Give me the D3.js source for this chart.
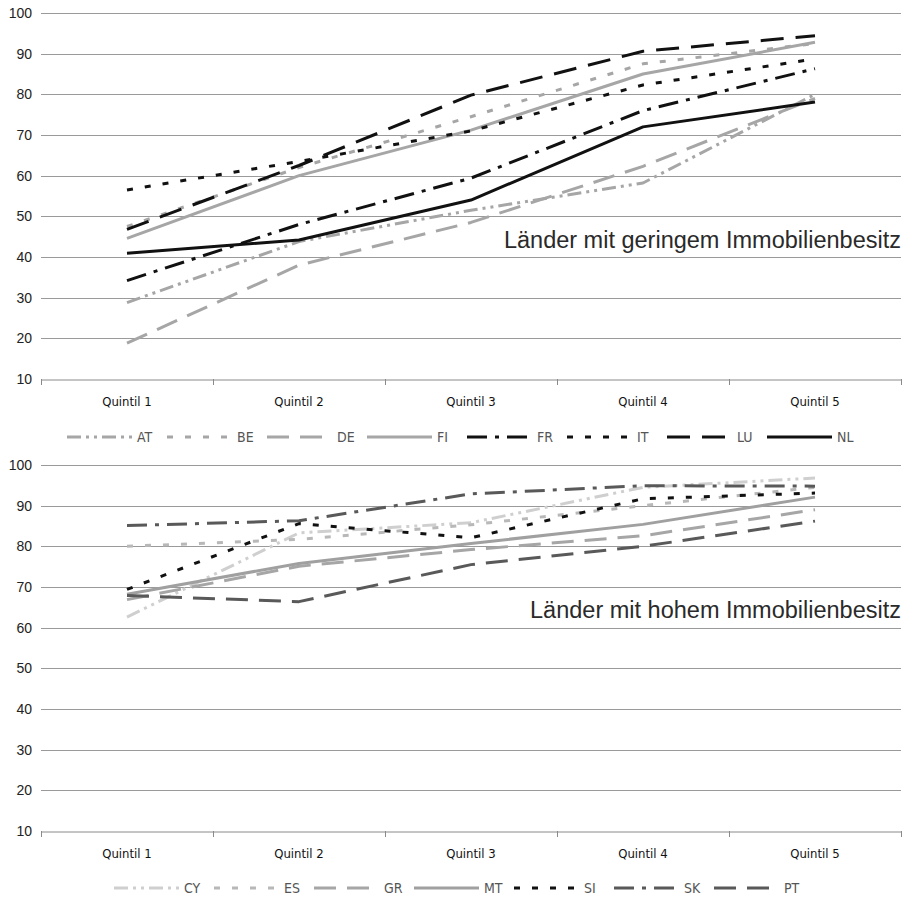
<!DOCTYPE html>
<html>
<head>
<meta charset="utf-8">
<script src="https://cdn.jsdelivr.net/npm/d3@7"></script>
<style>
  body { margin: 0; background: #fff; }
  svg { display: block; }
  .tick-y { font-family: "Liberation Sans", Arial, sans-serif; font-size: 14px; fill: #222; }
  .tick-x { font-family: "Liberation Sans Narrow", "DejaVu Sans Condensed", sans-serif; font-size: 13px; fill: #111; }
  .legend-text { font-family: "Liberation Sans Narrow", "DejaVu Sans Condensed", sans-serif; font-size: 14px; fill: #555; }
  .note { font-family: "Liberation Sans", Arial, sans-serif; font-size: 23.5px; fill: #2a2a2a; }
</style>
</head>
<body>
<svg id="chart" width="914" height="906"></svg>
<script>
// categories and ticks
var quintiles = ["Quintil 1", "Quintil 2", "Quintil 3", "Quintil 4", "Quintil 5"];
var yTicks = [10, 20, 30, 40, 50, 60, 70, 80, 90, 100];

// countries with low home ownership
var lowCountries = ["AT", "BE", "DE", "FI", "FR", "IT", "LU", "NL"];
var AT = [28.8, 43.8, 51.5, 58.2, 80];
var BE = [47.5, 62, 74.5, 87.5, 92.5];
var DE = [18.8, 38, 48.5, 62.3, 79];
var FI = [44.6, 60, 71.2, 85, 92.8];
var FR = [34.2, 48, 59.4, 76, 86.3];
var IT = [56.5, 63.5, 71, 82.3, 88.7];
var LU = [46.8, 62.5, 79.8, 90.6, 94.4];
var NL = [40.9, 44.2, 54, 72, 78.1];

// countries with high home ownership
var highCountries = ["CY", "ES", "GR", "MT", "SI", "SK", "PT"];
var CY = [62.6, 83.3, 85.8, 94.5, 96.8];
var ES = [80, 81.7, 85.3, 90, 94.5];
var GR = [66.9, 75.1, 79.2, 82.6, 89];
var MT = [68.2, 75.8, 80.7, 85.4, 92.1];
var SI = [69.4, 85.6, 82.1, 91.7, 93.1];
var SK = [85.1, 86.3, 92.9, 94.9, 94.8];
var PT = [67.9, 66.4, 75.5, 80, 86.2];

var values = {AT: AT, BE: BE, DE: DE, FI: FI, FR: FR, IT: IT, LU: LU, NL: NL,
              CY: CY, ES: ES, GR: GR, MT: MT, SI: SI, SK: SK, PT: PT};

// line styles
var styles = {
  AT: {color: "#a6a6a6", dash: "14,5,3,5,3,5"},
  BE: {color: "#a6a6a6", dash: "6,12"},
  DE: {color: "#a6a6a6", dash: "22,11"},
  FI: {color: "#a6a6a6", dash: null},
  FR: {color: "#111111", dash: "20,8,4,8"},
  IT: {color: "#111111", dash: "6,12"},
  LU: {color: "#111111", dash: "23,12"},
  NL: {color: "#111111", dash: null},
  CY: {color: "#cfcfcf", dash: "14,5,3,5,3,5"},
  ES: {color: "#b8b8b8", dash: "6,12"},
  GR: {color: "#a6a6a6", dash: "22,11"},
  MT: {color: "#a0a0a0", dash: null},
  SI: {color: "#111111", dash: "6,12"},
  SK: {color: "#595959", dash: "20,8,4,8"},
  PT: {color: "#595959", dash: "22,11"}
};

var svg = d3.select("#chart");
var left = 41, right = 901;

function drawPanel(cfg){
    var g = svg.append("g");

    var x = d3.scaleBand().domain(quintiles).range([left, right]);
    var y = d3.scaleLinear().domain([10, 100]).range([cfg.bottom, cfg.top]);

    // gridlines
    g.selectAll(".grid")
        .data(yTicks.filter(function(t){ return t > 10; }))
        .enter().append("line")
        .attr("x1", left).attr("x2", right)
        .attr("y1", function(d){ return Math.round(y(d)) + 0.5; })
        .attr("y2", function(d){ return Math.round(y(d)) + 0.5; })
        .attr("stroke", "#9a9a9a").attr("stroke-width", 1);

    // y labels
    g.selectAll(".tick-y")
        .data(yTicks)
        .enter().append("text")
        .attr("class", "tick-y")
        .attr("x", 32).attr("y", function(d){ return y(d) + 5; })
        .attr("text-anchor", "end")
        .text(function(d){ return d; });

    // x axis
    var xAxis = d3.axisBottom(x).tickSize(0).tickPadding(17);
    var ax = g.append("g")
        .attr("transform", "translate(0," + (Math.round(y(10)) + 0.5) + ")")
        .call(xAxis);
    ax.select(".domain").attr("stroke", "#8a8a8a");
    ax.selectAll("text").attr("class", "tick-x").attr("fill", null);

    // boundary ticks
    var bounds = quintiles.map(function(q){ return x(q); }).concat([right]);
    g.selectAll(".btick")
        .data(bounds)
        .enter().append("line")
        .attr("x1", function(d){ return Math.round(d) + 0.5; })
        .attr("x2", function(d){ return Math.round(d) + 0.5; })
        .attr("y1", Math.round(y(10))).attr("y2", Math.round(y(10)) + 6)
        .attr("stroke", "#8a8a8a");

    // annotation
    g.append("text")
        .attr("class", "note")
        .attr("x", right).attr("y", cfg.noteY)
        .attr("text-anchor", "end")
        .text(cfg.note);

    // series
    var line = d3.line()
        .x(function(d, i){ return x(quintiles[i]) + x.bandwidth() / 2; })
        .y(function(d){ return y(d); });

    cfg.countries.forEach(function(c){
        g.append("path")
            .datum(values[c])
            .attr("d", line)
            .attr("fill", "none")
            .attr("stroke", styles[c].color)
            .attr("stroke-width", 3)
            .attr("stroke-dasharray", styles[c].dash)
            .attr("stroke-linejoin", "round");
    });

    // legend
    var lg = svg.append("g");
    cfg.countries.forEach(function(c, i){
        var lx = cfg.legendX + i * 100;
        lg.append("line")
            .attr("x1", lx).attr("x2", lx + 65)
            .attr("y1", cfg.legendY).attr("y2", cfg.legendY)
            .attr("stroke", styles[c].color)
            .attr("stroke-width", 3)
            .attr("stroke-dasharray", styles[c].dash);
        lg.append("text")
            .attr("class", "legend-text")
            .attr("x", lx + 70).attr("y", cfg.legendY + 5)
            .text(c);
    });
}

drawPanel({
    top: 13, bottom: 379,
    countries: lowCountries,
    note: "Länder mit geringem Immobilienbesitz", noteY: 248,
    legendX: 67, legendY: 437
});

drawPanel({
    top: 465, bottom: 831,
    countries: highCountries,
    note: "Länder mit hohem Immobilienbesitz", noteY: 618,
    legendX: 114, legendY: 888
});
</script>
</body>
</html>
